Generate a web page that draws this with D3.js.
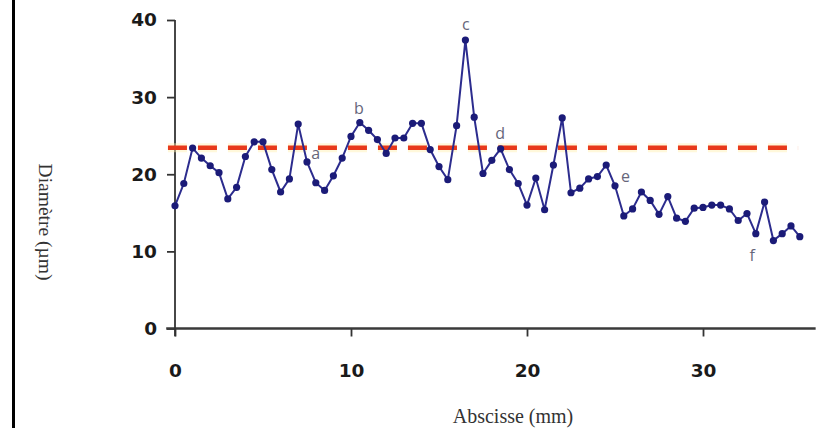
<!DOCTYPE html>
<head>
    <meta charset="utf-8"/>
    <script src="https://d3js.org/d3.v7.min.js"></script>
    <style>
        body { margin: 0; background: #fff; }
    </style>
</head>
<body>
    <svg id="chart" width="824" height="428"></svg>
    <script>
        // abscisse (mm) and diameter (µm)
        let abscisse = [0, 0.5, 1, 1.5, 2, 2.5, 3, 3.5, 4, 4.5, 5, 5.5, 6, 6.5, 7, 7.5, 8, 8.5,
            9, 9.5, 10, 10.5, 11, 11.5, 12, 12.5, 13, 13.5, 14, 14.5, 15, 15.5, 16, 16.5, 17, 17.5,
            18, 18.5, 19, 19.5, 20, 20.5, 21, 21.5, 22, 22.5, 23, 23.5, 24, 24.5, 25, 25.5, 26, 26.5,
            27, 27.5, 28, 28.5, 29, 29.5, 30, 30.5, 31, 31.5, 32, 32.5, 33, 33.5, 34, 34.5, 35, 35.5];
        let diametre = [15.9, 18.8, 23.4, 22.1, 21.1, 20.2, 16.8, 18.3, 22.3, 24.2, 24.2, 20.6, 17.7, 19.4,
            26.5, 21.6, 18.9, 17.9, 19.8, 22.1, 24.9, 26.7, 25.7, 24.5, 22.7, 24.7, 24.7, 26.6, 26.6, 23.2,
            21.0, 19.3, 26.3, 37.4, 27.4, 20.1, 21.8, 23.3, 20.6, 18.8, 16.0, 19.5, 15.4, 21.2, 27.3, 17.6,
            18.2, 19.4, 19.7, 21.2, 18.5, 14.6, 15.5, 17.7, 16.6, 14.8, 17.1, 14.3, 13.9, 15.6, 15.7, 16.0,
            16.0, 15.5, 14.0, 14.9, 12.3, 16.4, 11.4, 12.3, 13.3, 11.9];
        let seuil = 23.45;

        // letters a-f, in data units (text centre)
        let noteText = ["a", "b", "c", "d", "e", "f"];
        let noteX = [8.0, 10.45, 16.52, 18.47, 25.6, 32.8];
        let noteY = [22.7, 28.6, 39.4, 25.3, 19.7, 9.5];

        let xTicks = [0, 10, 20, 30];
        let yTicks = [0, 10, 20, 30, 40];

        let svg = d3.select("svg#chart");
        let xScale = d3.scaleLinear().domain([0, 30]).range([175, 703]);
        let yScale = d3.scaleLinear().domain([0, 40]).range([328.5, 20]);

        // black bar on the left
        svg.append("line")
            .attr("x1", 13.5).attr("x2", 13.5)
            .attr("y1", 0).attr("y2", 428)
            .style("stroke", "#000")
            .style("stroke-width", 3);

        // axes
        let xAxis = svg.append("g")
            .attr("transform", "translate(0," + yScale(0) + ")")
            .call(d3.axisBottom(xScale).tickValues(xTicks).tickSize(8).tickPadding(27));
        let yAxis = svg.append("g")
            .attr("transform", "translate(" + xScale(0) + ",0)")
            .call(d3.axisLeft(yScale).tickValues(yTicks).tickSize(8).tickPadding(10));

        [xAxis, yAxis].forEach(function(g) {
            g.select(".domain").remove();
            g.selectAll(".tick line").style("stroke", "#333").style("stroke-width", 1.8);
            g.selectAll(".tick text")
                .style("font-family", "'DejaVu Sans', sans-serif")
                .style("font-weight", "bold")
                .style("font-size", "18.5px")
                .style("fill", "#1a1a1a");
        });

        svg.append("line")
            .attr("x1", xScale(-0.5)).attr("x2", xScale(36.4))
            .attr("y1", yScale(0)).attr("y2", yScale(0))
            .style("stroke", "#3a3a3a")
            .style("stroke-width", 2.4);
        svg.append("line")
            .attr("x1", xScale(0)).attr("x2", xScale(0))
            .attr("y1", yScale(40)).attr("y2", yScale(-1))
            .style("stroke", "#333")
            .style("stroke-width", 1.8);

        // dashed reference level
        svg.append("line")
            .attr("x1", xScale(-0.4)).attr("x2", xScale(35.4))
            .attr("y1", yScale(seuil)).attr("y2", yScale(seuil))
            .style("stroke", "#fff0b0")
            .style("stroke-width", 9)
            .style("opacity", 0.45)
            .style("stroke-dasharray", "19,11");
        svg.append("line")
            .attr("x1", xScale(-0.4)).attr("x2", xScale(35.4))
            .attr("y1", yScale(seuil)).attr("y2", yScale(seuil))
            .style("stroke", "#e8391b")
            .style("stroke-width", 4.5)
            .style("stroke-dasharray", "19,11");

        // profile
        let points = abscisse.map(function(d, i) { return [d, diametre[i]]; });
        let line = d3.line()
            .x(function(d) { return xScale(d[0]); })
            .y(function(d) { return yScale(d[1]); });
        svg.append("path")
            .datum(points)
            .attr("d", line)
            .style("fill", "none")
            .style("stroke", "#2c2c8e")
            .style("stroke-width", 2);

        points.forEach(function(d) {
            svg.append("circle")
                .attr("r", 3.6)
                .attr("cx", xScale(d[0]))
                .attr("cy", yScale(d[1]))
                .style("fill", "#1b1b78");
        });

        // letters
        noteText.forEach(function(t, i) {
            svg.append("text")
                .text(t)
                .attr("x", xScale(noteX[i]))
                .attr("y", yScale(noteY[i]))
                .attr("dy", "0.35em")
                .attr("text-anchor", "middle")
                .style("font-family", "'Open Sans', sans-serif")
                .style("font-size", "16px")
                .style("fill", "#66667a");
        });

        // axis titles
        svg.append("text")
            .text("Abscisse (mm)")
            .attr("x", 513)
            .attr("y", 423)
            .attr("text-anchor", "middle")
            .style("font-family", "'Liberation Serif', serif")
            .style("font-size", "20px")
            .style("fill", "#333");
        svg.append("text")
            .text("Diamètre (µm)")
            .attr("transform", "translate(39,222) rotate(90)")
            .attr("text-anchor", "middle")
            .style("font-family", "'Liberation Serif', serif")
            .style("font-size", "19.5px")
            .style("fill", "#333");
    </script>
</body>
